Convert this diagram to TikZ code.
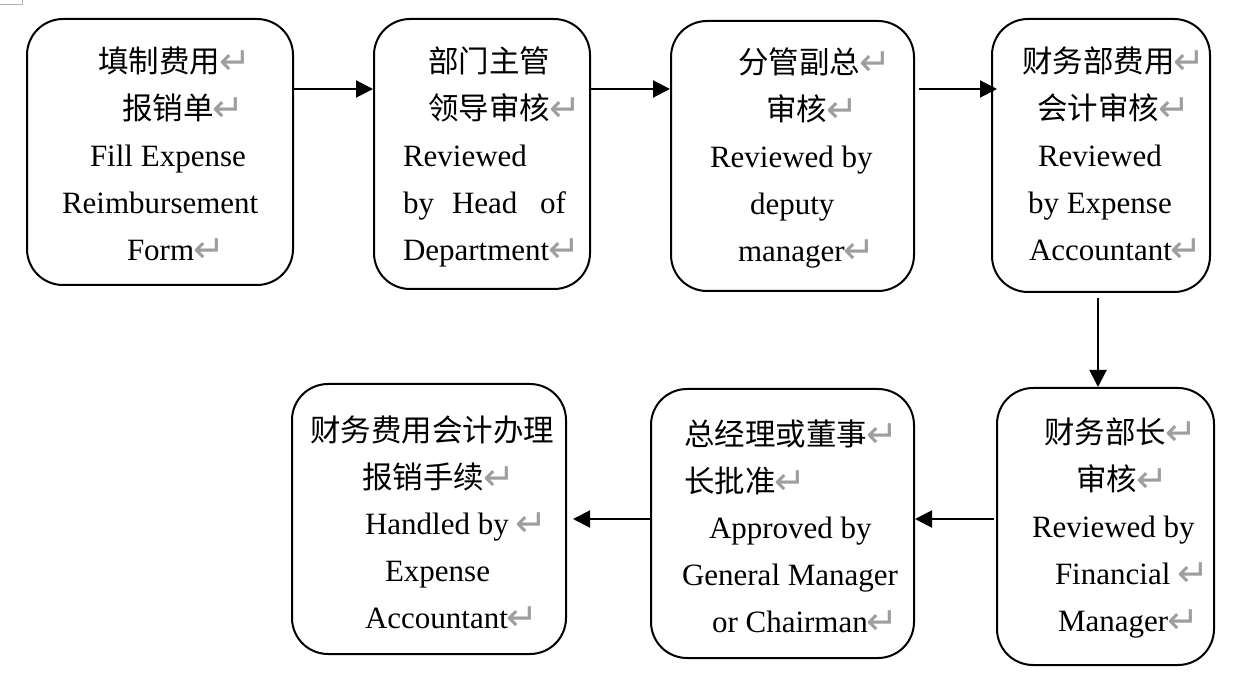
\documentclass[tikz,border=0pt]{standalone}
\usepackage{fontspec}
\setmainfont{Liberation Serif}
\newfontfamily\cjk{Noto Sans CJK SC}
\newfontfamily\symf{DejaVu Sans}
\usetikzlibrary{arrows.meta,calc}
\newcommand{\rtn}{{\color{black!38}\symf\fontsize{38}{38}\selectfont\kern-1pt\raisebox{-2pt}{↵}}}
\tikzset{
  box/.style={draw, line width=2pt, rounded corners=36pt, inner sep=0pt},
  txt/.style={anchor=base west, inner sep=0pt, outer sep=0pt, font=\fontsize{31}{47}\selectfont},
  ctxt/.style={anchor=base west, inner sep=0pt, outer sep=0pt, font=\cjk\fontsize{30.5}{47}\selectfont},
  arr/.style={line width=2pt, -{Triangle[length=17pt,width=17pt]}},
}
\begin{document}
\begin{tikzpicture}[x=1pt,y=-1pt]
\useasboundingbox (0,0) rectangle (1243,676);
% corner mark
\draw[black!30, line width=1pt] (0,4.5) -- (22,4.5) -- (22,0);
% boxes
\node[box, minimum width=266pt, minimum height=266pt] (b1) at (160,152) {};
\node[box, minimum width=216pt, minimum height=270pt] (b2) at (482,154) {};
\node[box, minimum width=243pt, minimum height=270pt] (b3) at (792.5,156) {};
\node[box, minimum width=218pt, minimum height=273pt] (b4) at (1101,155.5) {};
\node[box, minimum width=217pt, minimum height=277pt] (b5) at (1105.5,526.5) {};
\node[box, minimum width=263pt, minimum height=269pt] (b6) at (782.5,523.5) {};
\node[box, minimum width=274pt, minimum height=270pt] (b7) at (429,519) {};
% box 1
\node[ctxt] (t11) at (98,73) {填制费用\rtn};
\node[ctxt] (t12) at (122,120) {报销单\rtn};
\node[txt] (t13) at (90,167) {Fill Expense};
\node[txt] (t14) at (62,214) {Reimbursement};
\node[txt] (t15) at (127,261) {Form\rtn};
% box 2
\node[ctxt] (t21) at (428,73) {部门主管};
\node[ctxt] (t22) at (428,120) {领导审核\rtn};
\node[txt] (t23) at (403,167) {Reviewed};
\node[txt] (t24a) at (403,214) {by};
\node[txt] (t24b) at (452,214) {Head};
\node[txt] (t24c) at (540,214) {of};
\node[txt] (t25) at (403,261) {Department\rtn};
% box 3
\node[ctxt] (t31) at (738,74) {分管副总\rtn};
\node[ctxt] (t32) at (766,121) {审核\rtn};
\node[txt] (t33) at (710,168) {Reviewed by};
\node[txt] (t34) at (750,215) {deputy};
\node[txt] (t35) at (738,262) {manager\rtn};
% box 4
\node[ctxt] (t41) at (1022,73) {财务部费用\rtn};
\node[ctxt] (t42) at (1037,120) {会计审核\rtn};
\node[txt] (t43) at (1038,167) {Reviewed};
\node[txt] (t44) at (1028,214) {by Expense};
\node[txt] (t45) at (1029,261) {Accountant\rtn};
% box 5
\node[ctxt] (t51) at (1044,443) {财务部长\rtn};
\node[ctxt] (t52) at (1076,490) {审核\rtn};
\node[txt] (t53) at (1032,537) {Reviewed by};
\node[txt] (t54) at (1055,584) {Financial \rtn};
\node[txt] (t55) at (1058,631) {Manager\rtn};
% box 6
\node[ctxt] (t61) at (684,445) {总经理或董事\rtn};
\node[ctxt] (t62) at (684,492) {长批准\rtn};
\node[txt] (t63) at (709,538) {Approved by};
\node[txt] (t64) at (682,585) {General Manager};
\node[txt] (t65) at (712,632) {or Chairman\rtn};
% box 7
\node[ctxt] (t71) at (310,441) {财务费用会计办理};
\node[ctxt] (t72) at (362,488) {报销手续\rtn};
\node[txt] (t73) at (365,534) {Handled by \rtn};
\node[txt] (t74) at (385,581) {Expense};
\node[txt] (t75) at (365,628) {Accountant\rtn};
% arrows
\draw[arr] (b1.east |- 0,89) -- (b2.west |- 0,89);
\draw[arr] (b2.east |- 0,89) -- (b3.west |- 0,89);
\draw[arr] ($(b3.east |- 0,89)+(4,0)$) -- ($(b4.west |- 0,89)+(6,0)$);
\draw[arr] ($(b4.south)+(-3,5)$) -- ($(b5.north)+(-7.5,0)$);
\draw[arr] ($(b5.west |- 0,519)+(-2,0)$) -- (b6.east |- 0,519);
\draw[arr] (b6.west |- 0,519) -- ($(b7.east |- 0,519)+(6,0)$);
\end{tikzpicture}
\end{document}
